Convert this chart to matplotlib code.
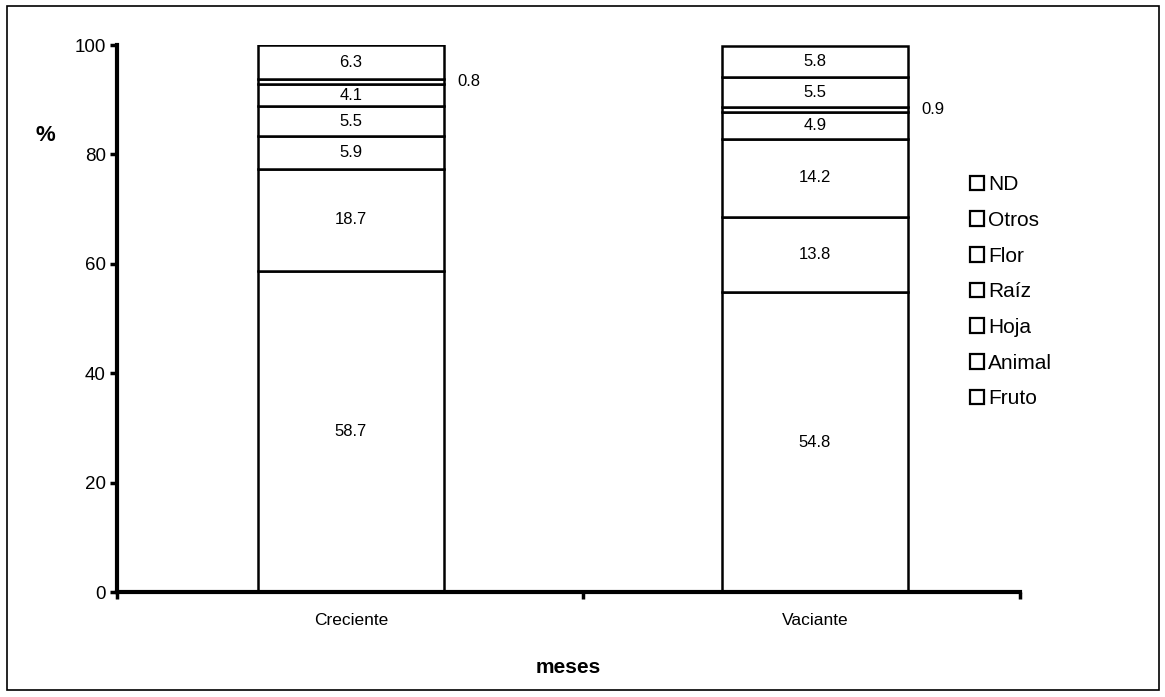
import matplotlib
matplotlib.use("Agg")
import matplotlib.pyplot as plt
from matplotlib.patches import Rectangle, Patch
import numpy as np

plt.rcParams['font.family'] = ['Liberation Sans', 'DejaVu Sans']

periods = ["Creciente", "Vaciante"]
categories = ["Fruto", "Animal", "Hoja", "Raíz", "Flor", "Otros", "ND"]
creciente = [58.7, 18.7, 5.9, 5.5, 4.1, 0.8, 6.3]
vaciante = [54.8, 13.8, 14.2, 4.9, 0.9, 5.5, 5.8]
values = np.array([creciente, vaciante])  # rows: periods, cols: categories

fig = plt.figure(figsize=(11.65, 6.97), dpi=100)
ax = fig.add_axes([0.1004, 0.1506, 0.7751, 0.7848])

# outer frame around the whole chart
fig.patches.append(Rectangle((0.006, 0.010), 0.989, 0.981, transform=fig.transFigure,
                             fill=False, edgecolor="black", linewidth=1.2))

x = np.arange(len(periods))
width = 0.40
bottom = np.zeros(len(periods))
for j, cat in enumerate(categories):
    vals = values[:, j]
    ax.bar(x, vals, width, bottom=bottom, color="white", edgecolor="black",
           linewidth=1.8, label=cat, zorder=2)
    for i in range(len(periods)):
        v = vals[i]
        yc = bottom[i] + v / 2
        if v < 2:
            ax.text(x[i] + width / 2 + 0.03, yc, f"{v:.1f}", ha="left", va="center",
                    fontsize=12)
        else:
            ax.text(x[i], yc, f"{v:.1f}", ha="center", va="center", fontsize=12)
    bottom += vals

ax.set_ylim(0, 100)
ax.set_xlim(-0.504, 1.442)
ax.set_yticks([0, 20, 40, 60, 80, 100])
ax.set_yticklabels(["0", "20", "40", "60", "80", "100"], fontsize=13.5)
ax.set_xticks([-0.504, 0.5, 1.442])
ax.set_xticklabels([])
ax.set_xticks(x, minor=True)
ax.set_xticklabels(periods, minor=True, fontsize=12.5)
ax.tick_params(axis="x", which="minor", length=0, pad=15)
ax.tick_params(axis="x", which="major", length=5, width=2.5, direction="out")
ax.tick_params(axis="y", which="major", length=5, width=2.5, direction="out", pad=3)

for side in ["top", "right"]:
    ax.spines[side].set_visible(False)
for side in ["left", "bottom"]:
    ax.spines[side].set_linewidth(3)

ax.set_xlabel("meses", fontsize=15, fontweight="bold", labelpad=22)
fig.text(0.039, 0.806, "%", fontsize=16, fontweight="bold", ha="center", va="center")

handles = [Patch(facecolor="white", edgecolor="black", linewidth=1.6) for _ in categories]
leg = ax.legend(handles[::-1], categories[::-1], loc="upper left",
                bbox_to_anchor=(0.935, 0.777), frameon=False, fontsize=15,
                handlelength=0.7, handleheight=0.7, handletextpad=0.2,
                labelspacing=0.8, borderaxespad=0)

fig.savefig("out.png", dpi=100)
